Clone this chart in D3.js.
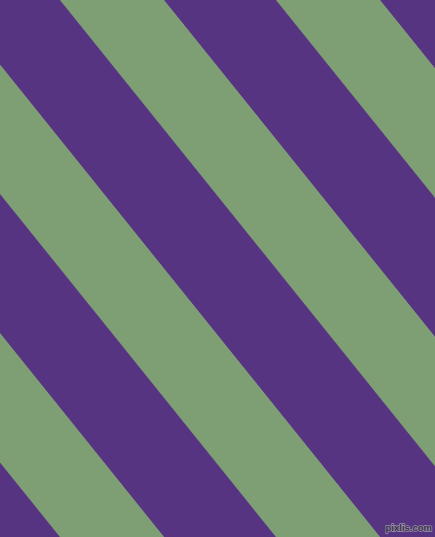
<!DOCTYPE html>
<html>
<head>
    <meta charset="utf-8">
    <style>
        body { margin: 0; background: #fff; }
        svg { display: block; }
        .mark {
            font-family: 'Liberation Sans', Arial, sans-serif;
            font-size: 9.5px;
            font-weight: bold;
            fill: #3a2e4a;
            stroke: #9a93a8;
            stroke-width: 1.4px;
            paint-order: stroke;
        }
    </style>
</head>
<body>
    <svg width="435" height="537"></svg>

<script src="https://d3js.org/d3.v7.min.js"></script>
<script>
    // stripe bands, in order across the picture (perpendicular to the stripes)
    const bandNames = ["purple", "green", "purple", "green", "purple", "green", "purple", "green", "purple"]
    const bandWidths = [87.2, 81.1, 87.2, 81.1, 87.2, 81.1, 87.2, 81.1, 87.2]
    const bandColors = ["#563482", "#7e9e73"]
    const colorNames = ["purple", "green"]
    const stripeAngle = 51.18   // degrees, clockwise from horizontal
    const firstBandStart = -383.3 // where the first band starts, across the stripes

    const width = 435
    const height = 537

    let svg = d3.select("svg")

    let color = d3.scaleOrdinal()
        .domain(colorNames)
        .range(bandColors)

    // cumulative band edges
    let edges = [0]
    bandWidths.forEach(w => edges.push(edges[edges.length - 1] + w))

    let across = d3.scaleLinear()
        .domain([0, edges[edges.length - 1]])
        .range([firstBandStart, firstBandStart + edges[edges.length - 1]])

    let bands = bandNames.map((name, i) => ({ name, start: edges[i], end: edges[i + 1] }))

    let g = svg.append("g")
        .attr("transform", `rotate(${stripeAngle})`)

    g.selectAll(".band")
        .data(bands)
        .join("rect")
        .attr("class", "band")
        .attr("x", -100)
        .attr("width", 900)
        .attr("y", d => across(d.start))
        .attr("height", d => across(d.end) - across(d.start) + 0.5)
        .style("fill", d => color(d.name))

    svg.append("text")
        .attr("class", "mark")
        .attr("x", 432)
        .attr("y", 531)
        .attr("text-anchor", "end")
        .text("pixlis.com")
</script>
</body>
</html>
